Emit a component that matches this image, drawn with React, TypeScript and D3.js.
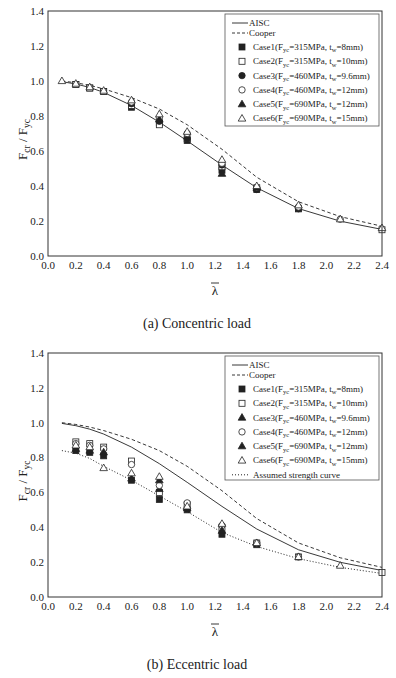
import * as d3 from "d3";

const lambdas = [0.1, 0.2, 0.3, 0.4, 0.6, 0.8, 1.0, 1.25, 1.5, 1.8, 2.1, 2.4];
const aisc = [0.996, 0.983, 0.963, 0.935, 0.86, 0.765, 0.658, 0.52, 0.39, 0.271, 0.199, 0.152];
const cooper = [1.0, 0.99, 0.975, 0.955, 0.905, 0.84, 0.75, 0.61, 0.45, 0.31, 0.225, 0.17];
const assumed = [0.84, 0.825, 0.795, 0.75, 0.67, 0.58, 0.49, 0.37, 0.29, 0.22, 0.17, 0.135];

// (a) concentric
const concCase1 = [null, 0.98, 0.96, 0.94, 0.85, 0.76, 0.66, 0.49, 0.38, 0.27, null, null];
const concCase2 = [null, 0.98, 0.96, 0.94, 0.86, 0.75, 0.67, 0.51, 0.39, 0.27, null, 0.15];
const concCase3 = [null, null, null, null, 0.87, 0.77, 0.67, 0.52, 0.38, 0.27, null, null];
const concCase4 = [null, null, null, null, 0.88, 0.79, 0.7, 0.53, 0.39, 0.28, 0.21, null];
const concCase5 = [null, null, null, null, null, 0.78, null, 0.47, 0.39, null, null, null];
const concCase6 = [1.0, 0.985, 0.965, 0.945, 0.89, 0.81, 0.71, 0.55, 0.4, 0.29, 0.21, 0.16];

// (b) eccentric
const eccCase1 = [null, 0.84, 0.83, 0.81, 0.67, 0.56, 0.5, 0.36, 0.3, null, null, null];
const eccCase2 = [null, 0.89, 0.88, 0.86, 0.78, 0.6, 0.53, 0.4, 0.31, 0.23, null, 0.14];
const eccCase3 = [null, 0.85, 0.84, null, 0.68, 0.62, 0.51, null, null, null, null, null];
const eccCase4 = [null, 0.88, 0.87, 0.85, 0.76, 0.64, 0.54, 0.41, 0.31, 0.23, null, null];
const eccCase5 = [null, null, null, 0.83, null, 0.67, null, 0.38, null, null, null, null];
const eccCase6 = [null, 0.87, 0.86, 0.74, 0.71, 0.69, 0.52, 0.42, 0.31, 0.23, 0.18, null];

const xTicks = [0, 0.2, 0.4, 0.6, 0.8, 1.0, 1.2, 1.4, 1.6, 1.8, 2.0, 2.2, 2.4];
const yTicks = [0, 0.2, 0.4, 0.6, 0.8, 1.0, 1.2, 1.4];

const caseLabels = [
  ["315", "8"],
  ["315", "10"],
  ["460", "9.6"],
  ["460", "12"],
  ["690", "12"],
  ["690", "15"],
];

const FONT = "Liberation Serif, Times New Roman, serif";
const INK = "#222";

type Sym = "sqF" | "sqO" | "ciF" | "ciO" | "trF" | "trO";

function Marker({ x, y, sym }: { x: number; y: number; sym: Sym }) {
  const filled = sym.endsWith("F");
  const fill = filled ? INK : "white";
  if (sym.startsWith("sq"))
    return <rect x={x - 3} y={y - 3} width={6} height={6} fill={fill} stroke={INK} strokeWidth={0.8} />;
  if (sym.startsWith("ci"))
    return <circle cx={x} cy={y} r={3.2} fill={fill} stroke={INK} strokeWidth={0.8} />;
  return (
    <path
      d={`M${x},${y - 4}L${x + 3.8},${y + 2.6}L${x - 3.8},${y + 2.6}Z`}
      fill={fill}
      stroke={INK}
      strokeWidth={0.8}
    />
  );
}

function Panel({
  top,
  bottom,
  cases,
  syms,
  withAssumed,
  caption,
}: {
  top: number;
  bottom: number;
  cases: (number | null)[][];
  syms: Sym[];
  withAssumed: boolean;
  caption: string;
}) {
  const left = 48;
  const right = 382;
  const x = d3.scaleLinear().domain([0, 2.4]).range([left, right]);
  const y = d3.scaleLinear().domain([0, 1.4]).range([bottom, top]);
  const line = d3
    .line<number>()
    .x((_, i) => x(lambdas[i]))
    .y((d) => y(d));

  const lgX = 225;
  const lgY = top + 3;
  const lgH = withAssumed ? 124 : 112;
  const rowY = (i: number) => (i < 2 ? lgY + 9 + i * 10 : lgY + 33 + (i - 2) * 14.3);

  const midY = (top + bottom) / 2 + 6;

  return (
    <g style={{ fontFamily: FONT }} fill={INK}>
      {/* curves */}
      <path d={line(aisc) ?? ""} fill="none" stroke={INK} strokeWidth={0.9} />
      <path d={line(cooper) ?? ""} fill="none" stroke={INK} strokeWidth={0.9} strokeDasharray="3.5,2.5" />
      {withAssumed && (
        <path d={line(assumed) ?? ""} fill="none" stroke={INK} strokeWidth={1} strokeDasharray="1,2" />
      )}
      {/* test points */}
      {cases.map((vals, ci) =>
        vals.map((v, i) =>
          v == null ? null : <Marker key={`${ci}-${i}`} x={x(lambdas[i])} y={y(v)} sym={syms[ci]} />
        )
      )}
      {/* frame */}
      <rect x={left} y={top} width={right - left} height={bottom - top} fill="none" stroke="#333" strokeWidth={1} />
      {/* ticks */}
      {yTicks.map((t) => (
        <text key={t} x={left - 4} y={y(t)} dy="0.35em" textAnchor="end" fontSize={11}>
          {d3.format(".1f")(t)}
        </text>
      ))}
      {xTicks.map((t) => (
        <text key={t} x={x(t)} y={bottom + 13} textAnchor="middle" fontSize={11}>
          {d3.format(".1f")(t)}
        </text>
      ))}
      {/* axis titles */}
      <text transform={`translate(27,${midY}) rotate(-90)`} textAnchor="middle" fontSize={13}>
        F<tspan fontSize={9.5} dy={3}>cr</tspan>
        <tspan dy={-3}> / F</tspan>
        <tspan fontSize={9.5} dy={3}>yc</tspan>
      </text>
      <line x1={211} x2={219} y1={bottom + 27} y2={bottom + 27} stroke={INK} strokeWidth={0.9} />
      <text x={215} y={bottom + 39} textAnchor="middle" fontSize={13}>
        λ
      </text>
      <text x={197} y={bottom + 72} textAnchor="middle" fontSize={14}>
        {caption}
      </text>
      {/* legend */}
      <rect x={lgX} y={lgY} width={154} height={lgH} fill="white" stroke="#555" strokeWidth={0.8} />
      <line x1={232} x2={248} y1={rowY(0)} y2={rowY(0)} stroke={INK} strokeWidth={0.9} />
      <text x={249} y={rowY(0)} dy="0.33em" fontSize={9}>AISC</text>
      <line x1={232} x2={248} y1={rowY(1)} y2={rowY(1)} stroke={INK} strokeWidth={0.9} strokeDasharray="3,2" />
      <text x={249} y={rowY(1)} dy="0.33em" fontSize={9}>Cooper</text>
      {caseLabels.map(([f, t], i) => (
        <g key={i}>
          <Marker x={242} y={rowY(i + 2)} sym={syms[i]} />
          <text x={253} y={rowY(i + 2)} dy="0.33em" fontSize={9}>
            {`Case${i + 1}(F`}
            <tspan fontSize={6.5} dy={2.5}>yc</tspan>
            <tspan dy={-2.5}>{`=${f}MPa, t`}</tspan>
            <tspan fontSize={6.5} dy={2.5}>w</tspan>
            <tspan dy={-2.5}>{`=${t}mm)`}</tspan>
          </text>
        </g>
      ))}
      {withAssumed && (
        <g>
          <line x1={232} x2={248} y1={rowY(8)} y2={rowY(8)} stroke={INK} strokeWidth={1} strokeDasharray="1,2" />
          <text x={253} y={rowY(8)} dy="0.33em" fontSize={9}>Assumed strength curve</text>
        </g>
      )}
    </g>
  );
}

export default function App() {
  return (
    <svg
      width={396}
      height={678}
      viewBox="0 0 396 678"
      style={{ position: "absolute", left: 0, top: 0, background: "white" }}
    >
      <Panel
        top={11}
        bottom={256}
        cases={[concCase1, concCase2, concCase3, concCase4, concCase5, concCase6]}
        syms={["sqF", "sqO", "ciF", "ciO", "trF", "trO"]}
        withAssumed={false}
        caption="(a) Concentric load"
      />
      <Panel
        top={353}
        bottom={597}
        cases={[eccCase1, eccCase2, eccCase3, eccCase4, eccCase5, eccCase6]}
        syms={["sqF", "sqO", "trF", "ciO", "trF", "trO"]}
        withAssumed={true}
        caption="(b) Eccentric load"
      />
    </svg>
  );
}
